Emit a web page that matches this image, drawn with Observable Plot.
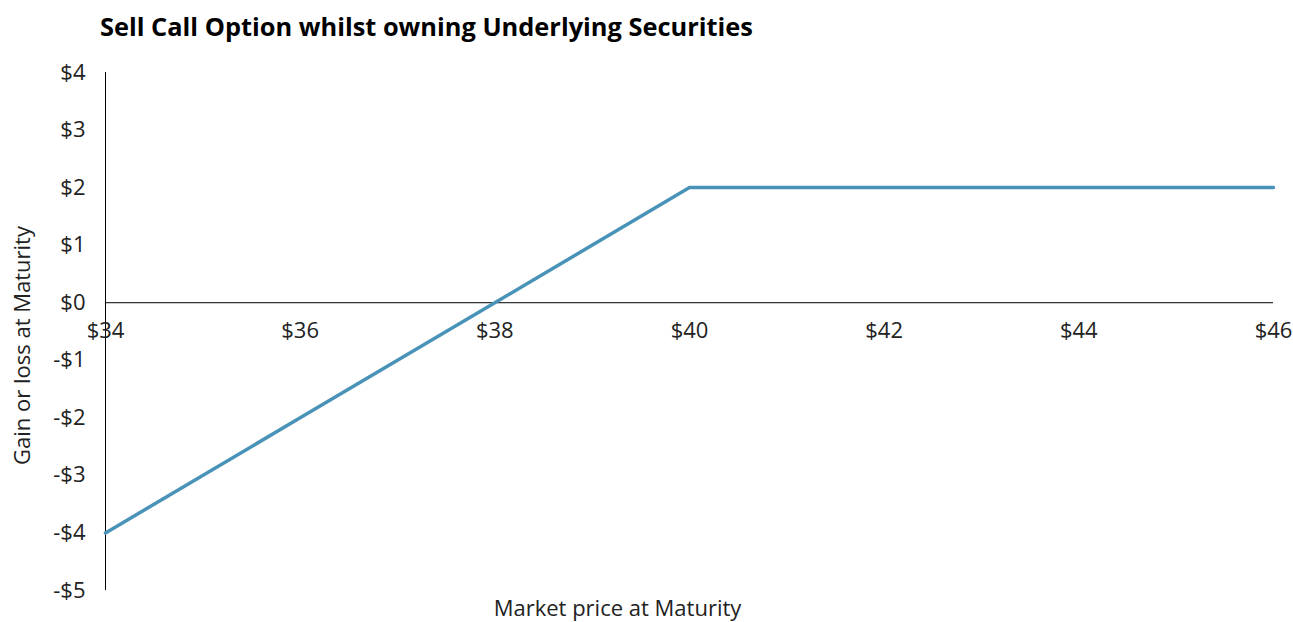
<!DOCTYPE html>
<html>
<head>
<meta charset="utf-8">
<script src="https://cdn.jsdelivr.net/npm/d3@7"></script>
<script src="https://cdn.jsdelivr.net/npm/@observablehq/plot@0.6"></script>
<style>
  body { margin: 0; background: #fff; font-family: "Open Sans", "Noto Sans", sans-serif; }
  #title { height: 50px; box-sizing: border-box; padding-left: 100px; padding-top: 9px; font-size: 25.4px; line-height: 34px; font-weight: 700; color: #000; }
  svg { display: block; }
</style>
</head>
<body>
<div id="title">Sell Call Option whilst owning Underlying Securities</div>
<div id="chart"></div>
<script>
const prices = [34, 36, 38, 40, 42, 44, 46];
const payoff = [-4, -2, 0, 2, 2, 2, 2];
const xTicks = [34, 36, 38, 40, 42, 44, 46];
const yTicks = [-5, -4, -3, -2, -1, 0, 1, 2, 3, 4];
const yLabel = "Gain or loss at Maturity";
const xLabel = "Market price at Maturity";

const data = prices.map((p, i) => ({price: p, value: payoff[i]}));
const fmt = d => (d < 0 ? "-" : "") + "$" + Math.abs(d);

const chart = Plot.plot({
  width: 1293,
  height: 572,
  marginTop: 22,
  marginBottom: 32,
  marginLeft: 105,
  marginRight: 20,
  style: {fontFamily: '"Open Sans", "Noto Sans", sans-serif', fontSize: "22px", color: "#222"},
  x: {domain: [34, 46], axis: null},
  y: {domain: [-5, 4], ticks: yTicks, tickFormat: fmt, tickSize: 0, tickPadding: 20, label: null},
  marks: [
    Plot.ruleX([34], {y1: -5, y2: 4, stroke: "#000", strokeWidth: 1}),
    Plot.ruleY([0], {x1: 34, x2: 46, stroke: "#000", strokeWidth: 1}),
    Plot.line(data, {x: "price", y: "value", stroke: "#4a93b8", strokeWidth: 3.5}),
    Plot.text(xTicks, {x: d => d, y: 0, text: fmt, dy: 28, fill: "#222", fontSize: 22}),
    Plot.text([yLabel], {frameAnchor: "left", textAnchor: "middle", lineAnchor: "middle", rotate: -90, dx: -83, dy: 14, fill: "#222", fontSize: 22}),
    Plot.text([xLabel], {frameAnchor: "bottom", textAnchor: "middle", lineAnchor: "middle", dx: -72, dy: 18, fill: "#222", fontSize: 22})
  ]
});
document.getElementById("chart").appendChild(chart);
</script>
</body>
</html>
